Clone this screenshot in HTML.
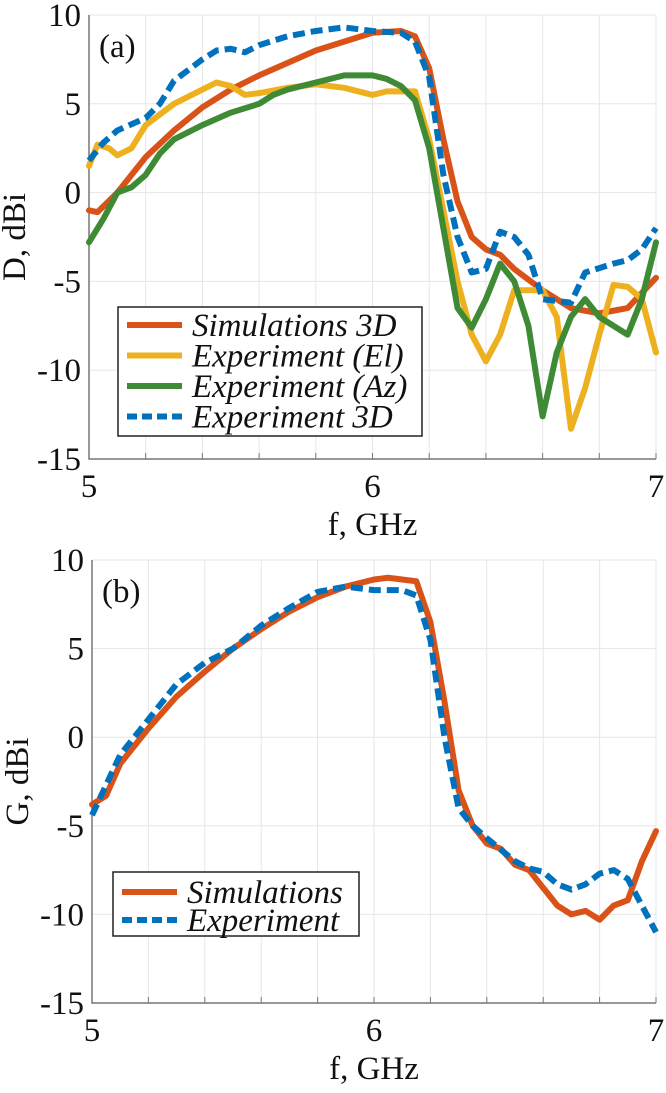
<!DOCTYPE html>
<html><head><meta charset="utf-8"><style>
body{margin:0;background:#fff}
svg text{font-family:"Liberation Serif",serif;fill:#111}
</style></head><body>
<svg id="c" width="666" height="1088" viewBox="0 0 666 1088" xmlns="http://www.w3.org/2000/svg"></svg>
<script>
const fTop1=[5.0,5.03,5.1,5.2,5.3,5.4,5.5,5.6,5.7,5.8,5.9,6.0,6.1,6.15,6.2,6.25,6.3,6.35,6.4,6.45,6.5,6.6,6.7,6.8,6.9,7.0];
const simTop=[-1,-1.1,0,2,3.5,4.8,5.8,6.6,7.3,8,8.5,9,9.1,8.8,7,3,-0.5,-2.5,-3.2,-3.5,-4.3,-5.5,-6.5,-6.8,-6.5,-4.8];
const fEl=[5.0,5.03,5.07,5.1,5.15,5.2,5.3,5.4,5.45,5.5,5.55,5.6,5.7,5.8,5.9,6.0,6.05,6.15,6.2,6.25,6.3,6.35,6.4,6.45,6.5,6.6,6.65,6.7,6.75,6.8,6.85,6.9,6.95,7.0];
const expEl=[1.5,2.7,2.5,2.1,2.5,3.8,5,5.8,6.2,6,5.5,5.6,5.9,6.1,5.9,5.5,5.7,5.7,3,-1,-5,-8,-9.5,-8,-5.5,-5.5,-7,-13.3,-11,-8,-5.2,-5.3,-6,-9];
const fAz=[5.0,5.05,5.1,5.15,5.2,5.25,5.3,5.4,5.5,5.6,5.65,5.7,5.8,5.9,6.0,6.05,6.1,6.15,6.2,6.25,6.3,6.35,6.4,6.45,6.5,6.55,6.6,6.65,6.7,6.75,6.8,6.9,6.95,7.0];
const expAz=[-2.8,-1.5,0,0.3,1,2.2,3,3.8,4.5,5,5.5,5.8,6.2,6.6,6.6,6.4,6,5.2,2.5,-2,-6.5,-7.6,-6,-4,-5,-7.5,-12.6,-9,-7,-6,-7,-8,-6,-2.8];
const f3D=[5.0,5.05,5.1,5.2,5.25,5.3,5.4,5.45,5.5,5.55,5.6,5.7,5.8,5.9,6.0,6.1,6.15,6.2,6.25,6.3,6.35,6.4,6.45,6.5,6.55,6.6,6.7,6.75,6.85,6.9,6.95,7.0];
const exp3D=[1.8,2.8,3.5,4.2,5,6.3,7.5,8,8.1,7.9,8.3,8.8,9.1,9.3,9.1,9.0,8.5,6.5,1,-2.5,-4.5,-4.3,-2.2,-2.5,-3.5,-6,-6.2,-4.5,-4,-3.8,-3.2,-2];
const fSimB=[5.0,5.05,5.1,5.2,5.3,5.4,5.5,5.6,5.7,5.8,5.9,6.0,6.05,6.15,6.2,6.25,6.3,6.35,6.4,6.45,6.5,6.55,6.6,6.65,6.7,6.75,6.8,6.85,6.9,6.95,7.0];
const simB=[-3.8,-3.3,-1.5,0.5,2.3,3.7,5,6.1,7.1,7.9,8.5,8.9,9.0,8.8,6.5,2,-3,-5,-6,-6.3,-7.2,-7.5,-8.5,-9.5,-10,-9.8,-10.3,-9.5,-9.2,-7,-5.3];
const fExpB=[5.0,5.1,5.2,5.3,5.4,5.5,5.6,5.7,5.8,5.9,6.0,6.1,6.15,6.2,6.25,6.3,6.35,6.4,6.5,6.55,6.6,6.65,6.7,6.75,6.8,6.85,6.9,6.95,7.0];
const expB=[-4.4,-1,1,3,4.2,5,6.3,7.3,8.2,8.5,8.3,8.3,8,5.5,0,-4,-5,-5.7,-7,-7.4,-7.6,-8.3,-8.6,-8.3,-7.7,-7.5,-8,-9.5,-11];
const yTicks=[10,5,0,-5,-10,-15];
const xTicks=[5,6,7];
const NS="http://www.w3.org/2000/svg";
const svg=document.getElementById('c');
function mk(t,a,p){const e=document.createElementNS(NS,t);for(const k in a)e.setAttribute(k,a[k]);(p||svg).appendChild(e);return e;}
function panel(L,R,T,B,pfx,ylab,tag,series,legend){
  const g=mk('g',{});
  
  
  const X=f=>L+(f-5)/2*(R-L), Y=v=>T+(10-v)/25*(B-T);
  for(let f=5.2;f<7.01;f+=0.2){const l=mk('line',{x1:X(f),x2:X(f),y1:T,y2:B,stroke:'#e6e6e6','stroke-width':1},g);
    const t=mk('line',{x1:X(f),x2:X(f),y1:B,y2:B-6,stroke:'#777','stroke-width':1},g);}
  yTicks.forEach(v=>{const l=mk('line',{x1:L,x2:R,y1:Y(v),y2:Y(v),stroke:'#e6e6e6','stroke-width':1},g);
    const t=mk('text',{x:L-8,y:Y(v)+11,'text-anchor':'end','font-size':33},g);t.textContent=v;});
  xTicks.forEach(v=>{const t=mk('text',{x:X(v),y:B+38,'text-anchor':'middle','font-size':33},g);t.textContent=v;});
  const ax=mk('path',{d:`M${L},${T}V${B}H${R}`,fill:'none',stroke:'#777','stroke-width':1.5},g);
  series.forEach(s=>{const p=mk('polyline',{points:s.f.map((f,i)=>X(f)+','+Y(s.v[i])).join(' '),fill:'none',stroke:s.c,'stroke-width':6,'stroke-linejoin':'round','stroke-linecap':s.d?'butt':'round'},g);if(s.d)p.setAttribute('stroke-dasharray','12 6');});
  const xl=mk('text',{x:(L+R)/2,y:B+76,'text-anchor':'middle','font-size':33},g);xl.textContent='f, GHz';
  const yl=mk('text',{x:0,y:0,'text-anchor':'middle','font-size':33,transform:`translate(${L-64},${(T+B)/2}) rotate(-90)`},g);yl.textContent=ylab;
  const tg=mk('text',{x:L+10,y:T+42,'font-size':33},g);tg.textContent=tag;
  const lg=mk('g',{},g);
  const bx=mk('rect',{x:legend.x,y:legend.y,width:legend.w,height:legend.h,fill:'#fff',stroke:'#222','stroke-width':1.5},lg);
  series.forEach((s,i)=>{const cy=legend.y+legend.r0+i*legend.dy;
    const l=mk('line',{x1:legend.x+9,x2:legend.x+64,y1:cy,y2:cy,stroke:s.c,'stroke-width':6},lg);if(s.d)l.setAttribute('stroke-dasharray','10 5');
    const t=mk('text',{x:legend.x+74,y:cy+11,'font-size':33,'font-style':'italic'},lg);t.textContent=s.label;});
}
panel(89,656,15,459,'top','D, dBi','(a)',[
 {f:fTop1,v:simTop,c:'#d95319',n:'simulations-3d-line',label:'Simulations 3D'},
 {f:fEl,v:expEl,c:'#edb120',n:'experiment-el-line',label:'Experiment (El)'},
 {f:fAz,v:expAz,c:'#3f8a35',n:'experiment-az-line',label:'Experiment (Az)'},
 {f:f3D,v:exp3D,c:'#0072bd',d:1,n:'experiment-3d-line',label:'Experiment 3D'}],{x:118,y:307,w:304,h:129,r0:18,dy:30.5});
panel(92,656,560,1003,'bottom','G, dBi','(b)',[
 {f:fSimB,v:simB,c:'#d95319',n:'simulations-line',label:'Simulations'},
 {f:fExpB,v:expB,c:'#0072bd',d:1,n:'experiment-line',label:'Experiment'}],{x:113,y:872,w:246,h:64,r0:20,dy:28});
</script>
</body></html>
